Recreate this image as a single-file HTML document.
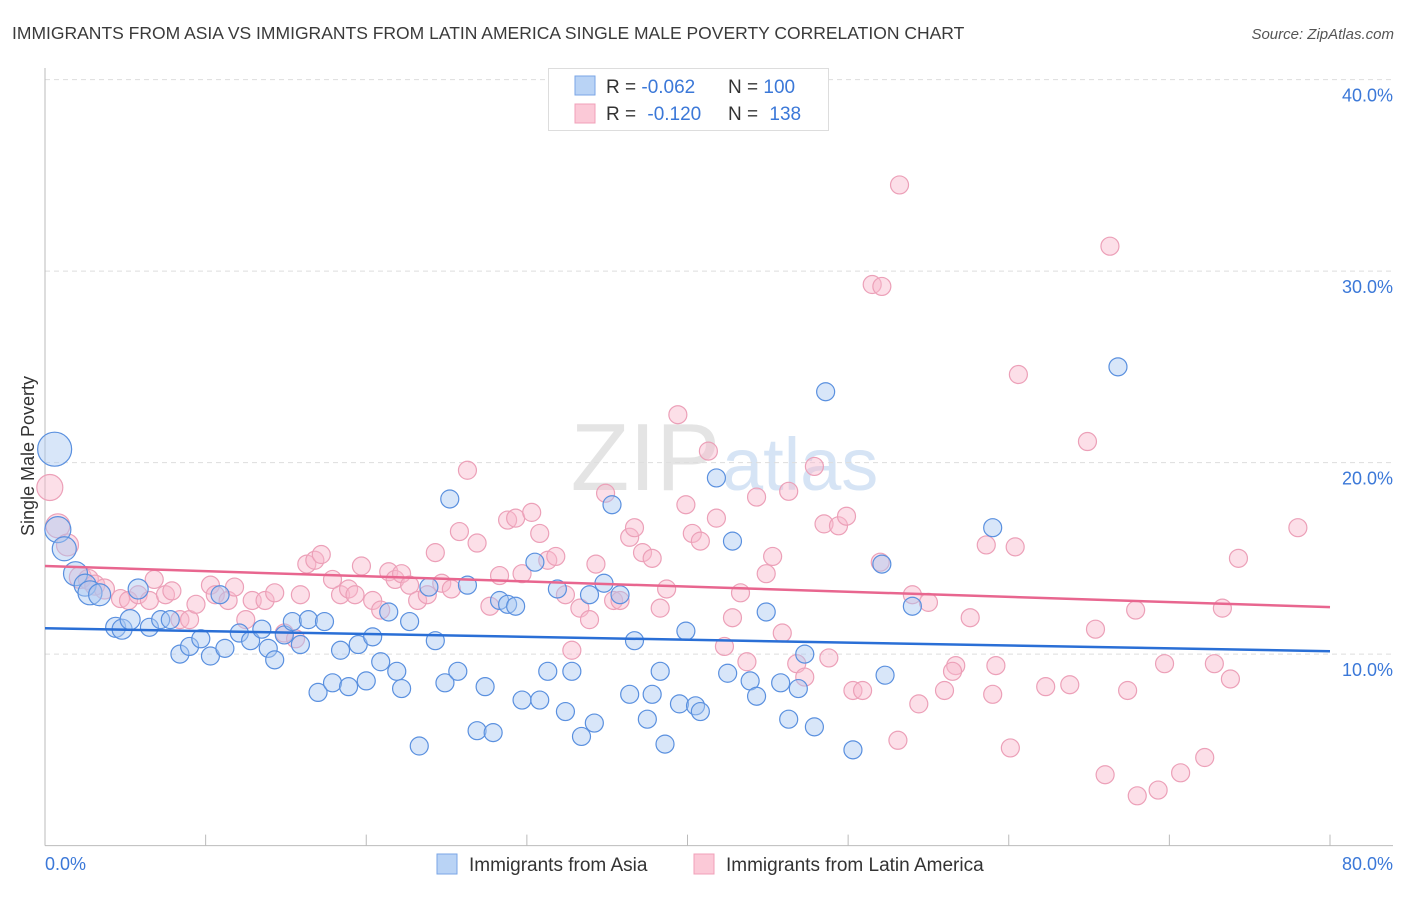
<!DOCTYPE html>
<html><head><meta charset="utf-8"><style>
body{margin:0;background:#fff;font-family:"Liberation Sans",sans-serif;}
svg text{font-family:"Liberation Sans",sans-serif;}
</style></head><body>
<svg id="chart" width="1406" height="892" xmlns="http://www.w3.org/2000/svg">
<text x="12" y="39" font-size="17.5" fill="#3a3a3a">IMMIGRANTS FROM ASIA VS IMMIGRANTS FROM LATIN AMERICA SINGLE MALE POVERTY CORRELATION CHART</text>
<text x="1394" y="39" font-size="15" fill="#555" font-style="italic" text-anchor="end">Source: ZipAtlas.com</text>
<text x="720" y="490" font-size="96" fill="#e4e4e4" text-anchor="end" font-family="Liberation Serif">ZIP</text>
<text x="722" y="490" font-size="74" fill="#d6e4f5">atlas</text>
<g id="grid"></g>
<g id="axes"></g>
<g id="marks"></g>
<g id="trends"></g>
<text transform="translate(34,456) rotate(-90)" font-size="18" fill="#333" text-anchor="middle">Single Male Poverty</text>
<text x="45" y="870" font-size="18" fill="#3b78d8">0.0%</text>
<text x="1393" y="870" font-size="18" fill="#3b78d8" text-anchor="end">80.0%</text>
<g>
<rect x="548.5" y="68.5" width="280" height="62" fill="#fff" stroke="#ddd"/>
<rect x="575" y="76" width="20" height="19" fill="#b9d3f5" stroke="#7aa6e6"/>
<rect x="575" y="104" width="20" height="19" fill="#fbc9d7" stroke="#f0a0b8"/>
<text x="606" y="93" font-size="19" fill="#333">R = <tspan fill="#3b78d8">-0.062</tspan><tspan x="728">N = </tspan><tspan fill="#3b78d8">100</tspan></text>
<text x="606" y="120" font-size="19" fill="#333">R = <tspan fill="#3b78d8" dx="6">-0.120</tspan><tspan x="728">N = </tspan><tspan fill="#3b78d8" dx="6">138</tspan></text>
</g>
<g>
<rect x="437" y="854" width="20" height="20" fill="#b9d3f5" stroke="#7aa6e6"/>
<text x="469" y="871" font-size="19" fill="#333">Immigrants from Asia</text>
<rect x="694" y="854" width="20" height="20" fill="#fbc9d7" stroke="#f0a0b8"/>
<text x="726" y="871" font-size="19" fill="#333">Immigrants from Latin America</text>
</g>
</svg>
<script>
const yTicks=[10,20,30,40];
const yTickLabels=["10.0%","20.0%","30.0%","40.0%"];
const xTicks=[10,20,30,40,50,60,70,80];
const asiaX=[0.6,0.8,1.2,1.9,2.5,2.8,3.4,4.4,4.8,5.3,5.8,6.5,7.2,7.8,8.4,9.0,9.7,10.3,10.9,11.2,12.1,12.8,13.5,13.9,14.3,14.9,15.4,15.9,16.4,17.0,17.4,17.9,18.4,18.9,19.5,20.0,20.4,20.9,21.4,21.9,22.2,22.7,23.3,23.9,24.3,24.9,25.2,25.7,26.3,26.9,27.4,27.9,28.3,28.8,29.3,29.7,30.5,30.8,31.3,31.9,32.4,32.8,33.4,33.9,34.2,34.8,35.3,35.8,36.4,36.7,37.5,37.8,38.3,38.6,39.5,39.9,40.5,40.8,41.8,42.5,42.8,43.9,44.3,44.9,45.8,46.3,46.9,47.3,47.9,48.6,50.3,52.1,52.3,54.0,59.0,66.8];
const asiaY=[20.7,16.5,15.5,14.2,13.6,13.2,13.1,11.4,11.3,11.8,13.4,11.4,11.8,11.8,10.0,10.4,10.8,9.9,13.1,10.3,11.1,10.7,11.3,10.3,9.7,11.0,11.7,10.5,11.8,8.0,11.7,8.5,10.2,8.3,10.5,8.6,10.9,9.6,12.2,9.1,8.2,11.7,5.2,13.5,10.7,8.5,18.1,9.1,13.6,6.0,8.3,5.9,12.8,12.6,12.5,7.6,14.8,7.6,9.1,13.4,7.0,9.1,5.7,13.1,6.4,13.7,17.8,13.1,7.9,10.7,6.6,7.9,9.1,5.3,7.4,11.2,7.3,7.0,19.2,9.0,15.9,8.6,7.8,12.2,8.5,6.6,8.2,10.0,6.2,23.7,5.0,14.7,8.9,12.5,16.6,25.0];
const asiaR=[17,13,12,12,11,12,11,10,10,10,10];
const latX=[0.3,0.8,1.4,2.2,2.7,3.1,3.7,4.7,5.2,5.8,6.5,6.8,7.5,7.9,8.4,9.0,9.4,10.3,10.6,11.4,11.8,12.5,12.9,13.7,14.3,14.9,15.6,15.9,16.3,16.8,17.2,17.9,18.4,18.9,19.3,19.7,20.4,20.9,21.4,21.8,22.2,22.7,23.2,23.8,24.3,24.7,25.3,25.8,26.3,26.9,27.7,28.3,28.8,29.3,29.7,30.3,30.8,31.3,31.8,32.4,32.8,33.3,33.9,34.3,34.9,35.4,35.8,36.4,36.7,37.2,37.8,38.3,38.7,39.4,39.9,40.3,40.8,41.3,41.8,42.3,42.8,43.3,43.7,44.3,44.9,45.3,45.9,46.3,46.8,47.3,47.9,48.5,48.8,49.4,49.9,50.3,50.9,51.5,52.1,52.0,53.1,53.2,54.0,54.4,55.0,56.0,56.7,56.5,57.6,58.6,59.0,59.2,60.1,60.4,60.6,62.3,63.8,64.9,65.4,66.0,66.3,67.4,67.9,68.0,69.3,69.7,70.7,72.2,72.8,73.3,73.8,74.3,78.0];
const latY=[18.7,16.7,15.7,14.0,13.9,13.6,13.4,12.9,12.8,13.1,12.8,13.9,13.1,13.3,11.8,11.8,12.6,13.6,13.1,12.8,13.5,11.8,12.8,12.8,13.2,11.1,10.8,13.1,14.7,14.9,15.2,13.9,13.1,13.4,13.1,14.6,12.8,12.3,14.3,13.9,14.2,13.6,12.8,13.1,15.3,13.7,13.4,16.4,19.6,15.8,12.5,14.1,17.0,17.1,14.2,17.4,16.3,14.9,15.1,13.1,10.2,12.4,11.8,14.7,18.4,12.8,12.8,16.1,16.6,15.3,15.0,12.4,13.4,22.5,17.8,16.3,15.9,20.6,17.1,10.4,11.9,13.2,9.6,18.2,14.2,15.1,11.1,18.5,9.5,8.8,19.8,16.8,9.8,16.7,17.2,8.1,8.1,29.3,29.2,14.8,5.5,34.5,13.1,7.4,12.7,8.1,9.4,9.1,11.9,15.7,7.9,9.4,5.1,15.6,24.6,8.3,8.4,21.1,11.3,3.7,31.3,8.1,12.3,2.6,2.9,9.5,3.8,4.6,9.5,12.4,8.7,15.0,16.6];
const latR=[13,12,11,11,10,10,10];
const asiaTrend=[11.35,10.15];
const latTrend=[14.6,12.45];
const X0=45,X1=1330,YB=845.6,PPY=19.15;
function sx(v){return X0+(X1-X0)*v/80;}
function sy(v){return YB-v*PPY;}
const NS="http://www.w3.org/2000/svg";
function mk(t,a,p){const e=document.createElementNS(NS,t);for(const k in a)e.setAttribute(k,a[k]);p.appendChild(e);return e;}
const grid=document.getElementById('grid'),axes=document.getElementById('axes'),marks=document.getElementById('marks'),trends=document.getElementById('trends');
yTicks.forEach((t,i)=>{
 const l=mk('line',{x1:X0,x2:1393,y1:sy(t),y2:sy(t),stroke:'#ddd','stroke-dasharray':'5,4'},grid);
 
 
 const tx=mk('text',{x:1393,y:sy(t)+22,'font-size':18,fill:'#3b78d8','text-anchor':'end'},axes);
 tx.textContent=yTickLabels[i];
 
 
});
const ya=mk('line',{x1:X0,x2:X0,y1:68,y2:YB,stroke:'#bbb'},axes);


const xa=mk('line',{x1:X0,x2:1393,y1:YB,y2:YB,stroke:'#bbb'},axes);


xTicks.forEach(t=>{
 const l=mk('line',{x1:sx(t),x2:sx(t),y1:YB,y2:YB-11,stroke:'#bbb'},axes);
 
 
});
function pts(xs,ys,rs,fill,stroke,name){
 xs.forEach((x,i)=>{
  const c=mk('circle',{cx:sx(x),cy:sy(ys[i]),r:rs[i]||9,fill:fill,'fill-opacity':0.45,stroke:stroke,'stroke-width':1.2},marks);
  
  
 });
}
pts(latX,latY,latR,'#f8b9cb','#eca0b8','latam-point');
pts(asiaX,asiaY,asiaR,'#a9c8f1','#5a90df','asia-point');
const t1=mk('line',{x1:sx(0),x2:sx(80),y1:sy(latTrend[0]),y2:sy(latTrend[1]),stroke:'#e8668f','stroke-width':2.5},trends);


const t2=mk('line',{x1:sx(0),x2:sx(80),y1:sy(asiaTrend[0]),y2:sy(asiaTrend[1]),stroke:'#2a6fd6','stroke-width':2.5},trends);


</script>
</body></html>
